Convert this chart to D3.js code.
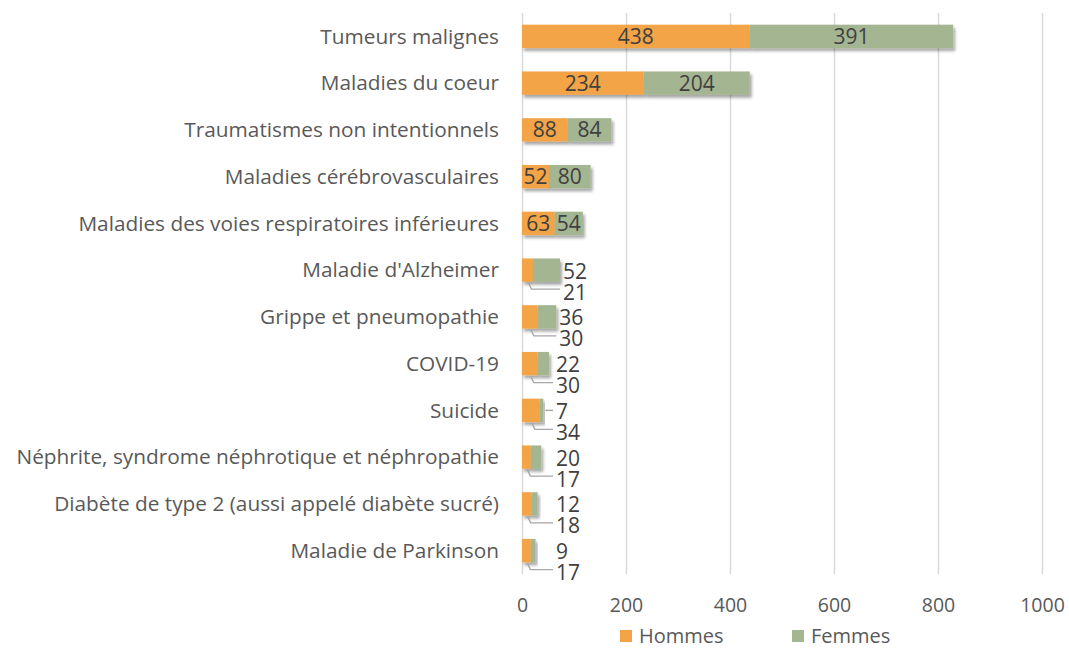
<!DOCTYPE html>
<html>
<head>
<meta charset="utf-8">
<script src="https://cdn.jsdelivr.net/npm/d3@7"></script>
<style>
  html, body { margin: 0; padding: 0; background: #fff; }
  svg text { font-family: "Open Sans", "Noto Sans", sans-serif; }
</style>
</head>
<body>
<div id="chart"></div>
<script>
var categories = [
    "Tumeurs malignes",
    "Maladies du coeur",
    "Traumatismes non intentionnels",
    "Maladies cérébrovasculaires",
    "Maladies des voies respiratoires inférieures",
    "Maladie d'Alzheimer",
    "Grippe et pneumopathie",
    "COVID-19",
    "Suicide ",
    "Néphrite, syndrome néphrotique et néphropathie",
    "Diabète de type 2 (aussi appelé diabète sucré)",
    "Maladie de Parkinson"
];
var hommes = [438, 234, 88, 52, 63, 21, 30, 30, 34, 17, 18, 17];
var femmes = [391, 204, 84, 80, 54, 52, 36, 22, 7, 20, 12, 9];
var xTicks = [0, 200, 400, 600, 800, 1000];
var seriesNames = ["Hommes", "Femmes"];
var seriesColors = ["#F2A446", "#A4B592"];

var WIDTH = 1069, HEIGHT = 648;

var svg = d3.select("#chart").append("svg")
    .attr("width", WIDTH)
    .attr("height", HEIGHT);

// ombre portée des barres
var defs = svg.append("defs");
defs.append("filter")
    .attr("id", "shadow")
    .attr("x", "-20%").attr("y", "-30%")
    .attr("width", "160%").attr("height", "180%")
    .append("feDropShadow")
    .attr("dx", 2).attr("dy", 3)
    .attr("stdDeviation", 1.6)
    .attr("flood-color", "#000")
    .attr("flood-opacity", 0.35);

var x = d3.scaleLinear().domain([0, 1000]).range([522, 1042]);
var y = d3.scaleBand().domain(categories).range([13, 574])
    .paddingInner(0.5).paddingOuter(0.25);

// grille + graduations
var xAxis = svg.append("g")
    .attr("transform", "translate(0,574)")
    .call(d3.axisBottom(x).tickValues(xTicks).tickFormat(d3.format("d"))
        .tickSize(-561).tickPadding(24));
xAxis.select(".domain").remove();
xAxis.selectAll(".tick line").attr("stroke", "#d9d9d9").attr("stroke-width", 1.5);
xAxis.selectAll(".tick text")
    .attr("fill", "#595959")
    .style("font-size", "19.5px");

// libellés des catégories
svg.append("g").selectAll("text")
    .data(categories).enter().append("text")
    .attr("x", 499)
    .attr("y", function (d) { return y(d) + y.bandwidth() / 2; })
    .attr("dy", "0.35em")
    .attr("text-anchor", "end")
    .attr("fill", "#595959")
    .style("font-size", "20.8px")
    .text(function (d) { return d; });

var rows = categories.map(function (c, i) {
    return { cat: c, h: hommes[i], f: femmes[i], total: hommes[i] + femmes[i] };
});

var bars = svg.append("g");
// Hommes
bars.selectAll("rect.h")
    .data(rows).enter().append("rect")
    .attr("class", "h")
    .attr("x", x(0))
    .attr("y", function (d) { return y(d.cat); })
    .attr("width", function (d) { return x(d.h) - x(0); })
    .attr("height", y.bandwidth())
    .attr("fill", seriesColors[0])
    .attr("filter", "url(#shadow)");
// Femmes
bars.selectAll("rect.f")
    .data(rows).enter().append("rect")
    .attr("class", "f")
    .attr("x", function (d) { return x(d.h); })
    .attr("y", function (d) { return y(d.cat); })
    .attr("width", function (d) { return x(d.h + d.f) - x(d.h); })
    .attr("height", y.bandwidth())
    .attr("fill", seriesColors[1])
    .attr("filter", "url(#shadow)");

// étiquettes de données
var labels = svg.append("g").style("font-size", "21px").attr("fill", "#404040");
var big = rows.filter(function (d) { return d.total > 100; });
var small = rows.filter(function (d) { return d.total <= 100; });

labels.selectAll("text.hin")
    .data(big).enter().append("text")
    .attr("x", function (d) { return (x(0) + x(d.h)) / 2; })
    .attr("y", function (d) { return y(d.cat) + y.bandwidth() / 2; })
    .attr("dy", "0.36em")
    .attr("text-anchor", "middle")
    .text(function (d) { return d.h; });

labels.selectAll("text.fin")
    .data(big).enter().append("text")
    .attr("x", function (d) { return (x(d.h) + x(d.total)) / 2; })
    .attr("y", function (d) { return y(d.cat) + y.bandwidth() / 2; })
    .attr("dy", "0.36em")
    .attr("text-anchor", "middle")
    .text(function (d) { return d.f; });

// petites barres : étiquettes à l'extérieur avec lignes de rappel
function labX(d) { return Math.max(x(d.total) + 3, x(0) + 34); }
function mid(d) { return y(d.cat) + y.bandwidth() / 2; }

var leaders = svg.append("g")
    .attr("fill", "none")
    .attr("stroke", "#a6a6a6")
    .attr("stroke-width", 1.4);

leaders.selectAll("path.hl")
    .data(small).enter().append("path")
    .attr("d", function (d) {
        var x0 = x(d.h / 2) + 1,
            y0 = y(d.cat) + y.bandwidth() + 1,
            yl = mid(d) + 19;
        return "M" + x0 + "," + y0 + "L" + (x0 + 3) + "," + yl + "L" + (labX(d) - 3) + "," + yl;
    });

leaders.selectAll("path.fl")
    .data(small.filter(function (d) { return d.f / d.total < 0.2; })).enter().append("path")
    .attr("d", function (d) {
        return "M" + (x(d.total) + 2) + "," + mid(d) + "L" + (labX(d) - 3) + "," + mid(d);
    });

labels.selectAll("text.fout")
    .data(small).enter().append("text")
    .attr("x", labX)
    .attr("y", function (d) { return mid(d) + 1; })
    .attr("dy", "0.36em")
    .text(function (d) { return d.f; });

labels.selectAll("text.hout")
    .data(small).enter().append("text")
    .attr("x", labX)
    .attr("y", function (d) { return mid(d) + 22; })
    .attr("dy", "0.36em")
    .text(function (d) { return d.h; });

// légende
var legend = svg.append("g").selectAll("g")
    .data(seriesNames).enter().append("g")
    .attr("transform", function (d, i) { return "translate(" + [620, 792][i] + ",636)"; });
legend.append("rect")
    .attr("x", 0).attr("y", -6)
    .attr("width", 12).attr("height", 12)
    .attr("fill", function (d, i) { return seriesColors[i]; });
legend.append("text")
    .attr("x", 19).attr("y", 0)
    .attr("dy", "0.36em")
    .attr("fill", "#595959")
    .style("font-size", "20px")
    .text(function (d) { return d; });
</script>
</body>
</html>
